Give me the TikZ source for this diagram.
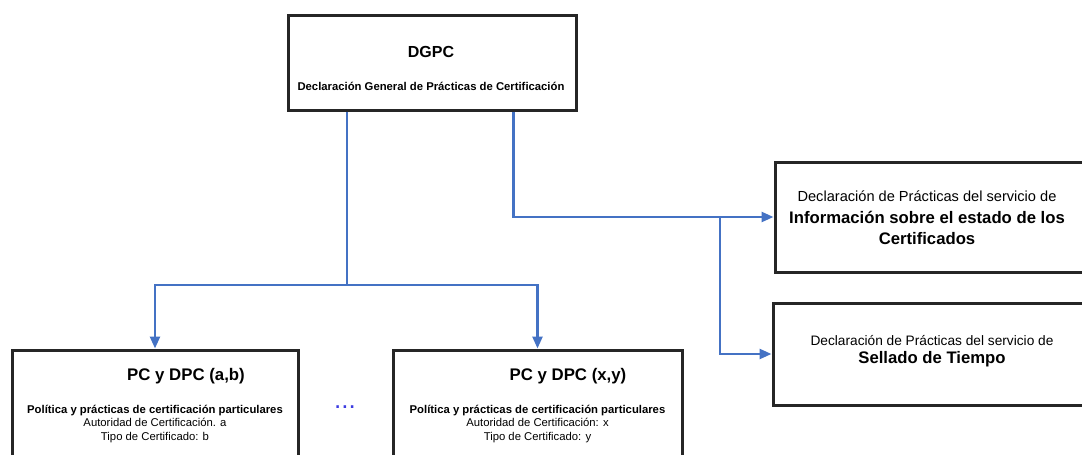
\documentclass[tikz,border=0pt]{standalone}
\usepackage{fontspec}
\setmainfont{Liberation Sans}
\usetikzlibrary{positioning,arrows.meta}
\definecolor{linkblue}{RGB}{68,114,196}
\definecolor{dotblue}{RGB}{60,60,225}
\tikzset{box/.style = {draw=black!85, line width=3pt, fill=white, inner sep=0pt}}
\tikzset{link/.style = {draw=linkblue, line width=2.5pt}}
\tikzset{arrow/.style = {link, -{Triangle[width=10pt,length=12pt]}}}
\newcommand{\fs}[1]{\fontsize{#1}{1.22\dimexpr #1pt\relax}\selectfont}
\begin{document}
\begin{tikzpicture}[x=1pt,y=-1pt]
	\useasboundingbox (0,0) rectangle (1082,455);
	\clip (0,0) rectangle (1082,455);
	% boxes
	\node[box, minimum width=288, minimum height=95] (dgpc) at (432,62.5) {};
	\node[box, minimum width=286, minimum height=125] (pcab) at (155,412.5) {};
	\node[box, minimum width=289, minimum height=125] (pcxy) at (537.5,412.5) {};
	\node[box, minimum width=320, minimum height=110] (info) at (935,217) {};
	\node[box, minimum width=322, minimum height=102] (sellado) at (934,354) {};
	% texts
	\node (dgpctitle) at (431,52) {\fs{16}\bfseries DGPC};
	\node (dgpcsub) at (431,86) {\fs{11.3}\bfseries Declaración General de Prácticas de Certificación};
	\node (abtitle) at (186,376) {\fs{16.8}\bfseries PC y DPC (a,b)};
	\node[align=center, font=\fs{11.3}] (abtext) at (155,424) {\textbf{Política y prácticas de certificación particulares}\\Autoridad de Certificación. a\\Tipo de Certificado: b};
	\node (xytitle) at (568,376) {\fs{16.8}\bfseries PC y DPC (x,y)};
	\node[align=center, font=\fs{11.3}] (xytext) at (537.5,424) {\textbf{Política y prácticas de certificación particulares}\\Autoridad de Certificación: x\\Tipo de Certificado: y};
	\node[align=center, font=\fontsize{16.7}{21.5}\selectfont] (infotext) at (927,218) {\fs{14.6}Declaración de Prácticas del servicio de\\\bfseries Información sobre el estado de los\\\bfseries Certificados};
	\node[align=center, font=\fontsize{16.7}{18.5}\selectfont] (selladotext) at (932,351) {\fs{13.7}Declaración de Prácticas del servicio de\\\bfseries Sellado de Tiempo};
	\node[text=dotblue, anchor=base] (dots) at (345,408) {\fs{26}...};
	% connectors
	\coordinate (split) at (347,285);
	\coordinate (fork) at (720,217);
	\draw[link] (dgpc.south -| split) -- (split);
	\draw[arrow] (split) -| (pcab.north);
	\draw[arrow] (split) -| (pcxy.north);
	\draw[arrow] ([xshift=227pt]dgpc.south west) |- (info.west);
	\draw[arrow] (fork) |- (sellado.west);
\end{tikzpicture}
\end{document}
